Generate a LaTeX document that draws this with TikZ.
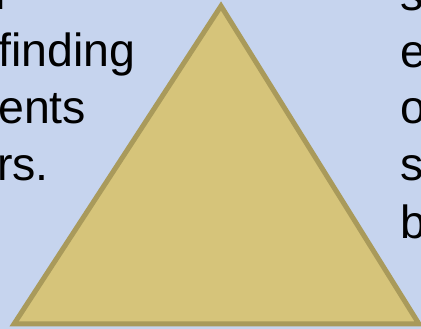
\documentclass[tikz,border=0pt]{standalone}
\usepackage{fontspec}
\setmainfont{Liberation Sans}
\definecolor{slidebg}{HTML}{C6D4EE}
\definecolor{pyrfill}{HTML}{D6C47A}
\definecolor{pyredge}{HTML}{A99A5B}
\begin{document}
\begin{tikzpicture}[x=1pt, y=1pt,
  word/.style={anchor=base west, inner sep=0pt, font=\fontsize{46.5}{56}\selectfont},
  pyr/.style={fill=pyrfill, draw=pyredge, line width=5pt, line join=miter}]
  \useasboundingbox (0,0) rectangle (421,329);
  \clip (0,0) rectangle (421,329);
  \fill[slidebg] (0,0) rectangle (421,329);
  % left column, cut at the edge
  \node[word] (l1) at (-5,319) {l};
  \node[word] (l2) at (-2,262) {finding};
  \node[word] (l3) at (-2,205) {ents};
  \node[word] (l4) at (-3,148) {rs.};
  % right column, cut at the edge
  \node[word] (r1) at (400,318.5) {s};
  \node[word] (r2) at (400,261) {e};
  \node[word] (r3) at (400,205) {o};
  \node[word] (r4) at (400,148) {s};
  \node[word] (r5) at (400,90) {b};
  % pyramid
  \coordinate (top) at (221,323);
  \coordinate (bl) at (14,5);
  \coordinate (br) at (419,5);
  \draw[pyr] (top) -- (bl) -- (br) -- cycle;
\end{tikzpicture}
\end{document}
